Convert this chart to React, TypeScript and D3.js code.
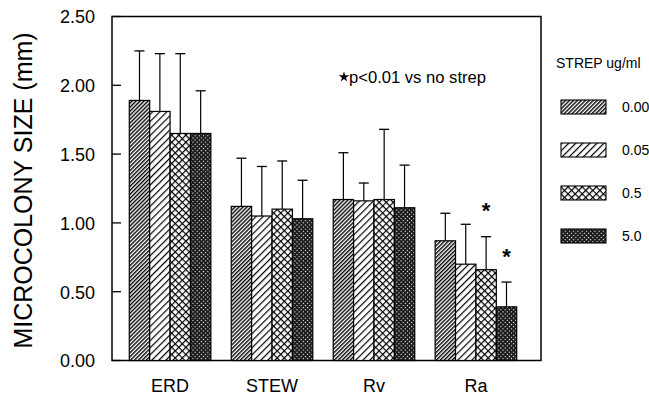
import React from "react";
import * as d3 from "d3";

const categories = ["ERD", "STEW", "Rv", "Ra"];
const series = ["0.00", "0.05", "0.5", "5.0"];
// values[category][series]
const means = [
  [1.89, 1.81, 1.65, 1.65],
  [1.12, 1.05, 1.1, 1.03],
  [1.17, 1.16, 1.17, 1.11],
  [0.87, 0.7, 0.66, 0.39],
];
const errTops = [
  [2.25, 2.23, 2.23, 1.96],
  [1.47, 1.41, 1.45, 1.31],
  [1.51, 1.29, 1.68, 1.42],
  [1.07, 0.99, 0.9, 0.57],
];
const yTicks = [0, 0.5, 1.0, 1.5, 2.0, 2.5];
// significance markers: [categoryIndex, seriesIndex]
const sigMarks = [
  [3, 2],
  [3, 3],
];

const W = 649;
const H = 396;
const frame = { left: 112, right: 541, top: 16.5, bottom: 360.5 };
const font = "'Liberation Sans', Arial, Helvetica, sans-serif";

export default function App() {
  const y = d3.scaleLinear().domain([0, 2.5]).range([frame.bottom, frame.top]);
  const x0 = d3
    .scaleBand<string>()
    .domain(categories)
    .range([129.3, 516.7])
    .paddingInner(0.2)
    .paddingOuter(0);
  const x1 = d3.scaleBand<string>().domain(series).range([0, x0.bandwidth()]).padding(0);
  const patIds = ["p0", "p1", "p2", "p3"];

  return (
    <svg
      width={W}
      height={H}
      style={{ position: "absolute", left: 0, top: 0, background: "#fff" }}
      fontFamily={font}
    >
      <defs>
        <pattern id="p0" patternUnits="userSpaceOnUse" width={2.8} height={2.8} patternTransform="rotate(45)">
          <rect width={2.8} height={2.8} fill="#fff" />
          <line x1={0.7} y1={0} x2={0.7} y2={2.8} stroke="#000" strokeWidth={1.4} />
        </pattern>
        <pattern id="p1" patternUnits="userSpaceOnUse" width={5} height={5} patternTransform="rotate(45)">
          <rect width={5} height={5} fill="#fff" />
          <line x1={0.6} y1={0} x2={0.6} y2={5} stroke="#000" strokeWidth={1.2} />
        </pattern>
        <pattern id="p2" patternUnits="userSpaceOnUse" width={5} height={5} patternTransform="rotate(45)">
          <rect width={5} height={5} fill="#fff" />
          <line x1={0.6} y1={0} x2={0.6} y2={5} stroke="#000" strokeWidth={1.2} />
          <line x1={0} y1={0.6} x2={5} y2={0.6} stroke="#000" strokeWidth={1.2} />
        </pattern>
        <pattern id="p3" patternUnits="userSpaceOnUse" width={3} height={3} patternTransform="rotate(45)">
          <rect width={3} height={3} fill="#1a1a1a" />
          <rect x={1} y={1} width={1.1} height={1.1} fill="#fff" />
        </pattern>
      </defs>

      {/* frame */}
      <rect
        x={frame.left}
        y={frame.top}
        width={frame.right - frame.left}
        height={frame.bottom - frame.top}
        fill="none"
        stroke="#000"
        strokeWidth={1.5}
      />

      {/* y ticks */}
      {yTicks.map((t) => (
        <g key={t}>
          <line x1={frame.left} x2={frame.left + 9} y1={y(t)} y2={y(t)} stroke="#000" strokeWidth={1.3} />
          <text x={95} y={y(t)} dy="0.38em" textAnchor="end" fontSize={18} fill="#000">
            {d3.format(".2f")(t)}
          </text>
        </g>
      ))}

      {/* y title */}
      <text
        transform={`translate(32,${(frame.top + frame.bottom) / 2 + 2}) rotate(-90)`}
        textAnchor="middle"
        fontSize={25}
        fill="#000"
      >
        MICROCOLONY SIZE (mm)
      </text>

      {/* bars */}
      {categories.map((c, ci) => (
        <g key={c} transform={`translate(${x0(c)},0)`}>
          {series.map((s, si) => {
            const bx = x1(s)!;
            const bw = x1.bandwidth();
            const cx = bx + bw / 2;
            return (
              <g key={s}>
                <line x1={cx} x2={cx} y1={y(means[ci][si])} y2={y(errTops[ci][si])} stroke="#000" strokeWidth={1.2} />
                <line x1={cx - 5} x2={cx + 5} y1={y(errTops[ci][si])} y2={y(errTops[ci][si])} stroke="#000" strokeWidth={1.3} />
                <rect
                  x={bx}
                  y={y(means[ci][si])}
                  width={bw}
                  height={y(0) - y(means[ci][si])}
                  fill={`url(#${patIds[si]})`}
                  stroke="#000"
                  strokeWidth={1.2}
                />
              </g>
            );
          })}
          <text
            x={x0.bandwidth() / 2}
            y={391.5}
            textAnchor="middle"
            fontSize={18}
            fill="#000"
          >
            {c}
          </text>
        </g>
      ))}

      {/* significance asterisks */}
      {sigMarks.map(([ci, si], i) => (
        <text
          key={i}
          x={x0(categories[ci])! + x1(series[si])! + x1.bandwidth() / 2}
          y={y(errTops[ci][si]) - 18.5}
          textAnchor="middle"
          fontSize={22}
          fontWeight="bold"
          fill="#000"
        >
          *
        </text>
      ))}

      {/* annotation */}
      <path d={d3.symbol().type(d3.symbolStar).size(34)()!} transform="translate(344,77)" fill="#000" />
      <text x={349} y={82.5} fontSize={16.6} fill="#000">
        p&lt;0.01 vs no strep
      </text>

      {/* legend */}
      <text x={556} y={68} fontSize={14} fill="#000">
        STREP ug/ml
      </text>
      {series.map((s, si) => (
        <g key={s} transform={`translate(561,${100 + si * 43})`}>
          <rect width={45} height={14} fill={`url(#${patIds[si]})`} stroke="#000" strokeWidth={1.1} />
          <text x={61} y={7} dy="0.36em" fontSize={14} fill="#000">
            {s}
          </text>
        </g>
      ))}
    </svg>
  );
}
